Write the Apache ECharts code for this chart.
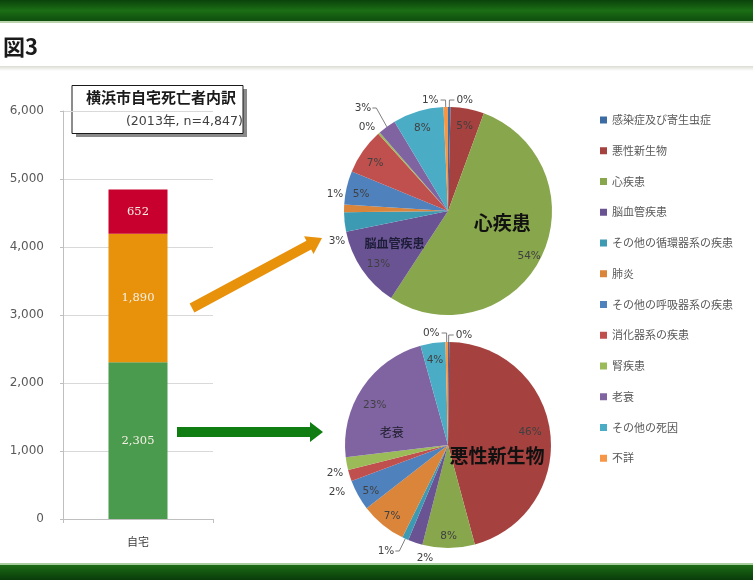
<!DOCTYPE html>
<html><head><meta charset="utf-8">
<script src="https://cdn.jsdelivr.net/npm/echarts@6/dist/echarts.min.js"></script>
<style>html,body{margin:0;padding:0;background:#fff}#c{width:753px;height:580px}</style>
</head><body><div id="c"></div>
<script>
// ---------- data ----------
const categories = ['自宅'];
const barGreen = [2305];   // -> 悪性新生物 breakdown pie
const barOrange = [1890];  // -> 心疾患 breakdown pie
const barRed = [652];
const yMin = 0, yMax = 6000, yInterval = 1000;

const causes = ['感染症及び寄生虫症','悪性新生物','心疾患','脳血管疾患','その他の循環器系の疾患','肺炎',
  'その他の呼吸器系の疾患','消化器系の疾患','腎疾患','老衰','その他の死因','不詳'];
const topPieValues    = [0.4, 5.2, 53.6, 12.6, 3.0, 1.2, 5.2, 7.1, 0.3, 2.8, 7.9, 0.7];
const bottomPieValues = [0.2, 45.6, 8.2, 2.3, 1.0, 7.2, 4.8, 1.8, 2.0, 22.6, 3.9, 0.4];

const boxTitle = '横浜市自宅死亡者内訳';
const boxSub = '(2013年, n=4,847)';
const figTitle = '図3';

// ---------- styles ----------
const palette = ['#3C6CA4','#A5413E','#88A64C','#6A5393','#3D9AB3','#DB853B',
  '#4F81BD','#C0504D','#9BBB59','#8064A2','#4BACC6','#F79646'];
const JP = '"Noto Sans CJK JP", sans-serif';
const NUM = '"DejaVu Sans", sans-serif';
const topCenter = [448, 211], topR = 104;
const botCenter = [448, 445], botR = 103;
const INSIDE_PUSH = 0.62, INSIDE_DY = 3;

const rich = {
  big:  {fontSize: 19, fontWeight: 'bold', color: '#111', fontFamily: JP, lineHeight: 28},
  pctA: {fontSize: 10.5, color: '#404040', fontFamily: NUM, lineHeight: 40, padding: [0,0,0,54]},
  mid:  {fontSize: 12, fontWeight: 'bold', color: '#1c1c36', fontFamily: JP, lineHeight: 16},
  pctB: {fontSize: 10.5, color: '#404040', fontFamily: NUM, lineHeight: 24, padding: [0,32,0,0]},
  pctC: {fontSize: 10.5, color: '#404040', fontFamily: NUM, lineHeight: 20, padding: [0,0,0,66]},
  pctD: {fontSize: 10.5, color: '#404040', fontFamily: NUM, lineHeight: 20, padding: [0,34,0,0]},
  nm2:  {fontSize: 12, color: '#1c1c2a', fontFamily: JP, lineHeight: 34}
};

// special combined labels: formatter + offset
const topSpecial = {
  2: {fmt: p => '{big|' + p.name + '}\n{pctA|' + p.percent + '%}', off: [5, 7]},
  3: {fmt: p => '{mid|' + p.name + '}\n{pctB|' + p.percent + '%}', off: [-8, 14]}
};
const botSpecial = {
  1: {fmt: p => '{pctC|' + p.percent + '%}\n{big|' + p.name + '}', off: [-5, 8]},
  9: {fmt: p => '{pctD|' + p.percent + '%}\n{nm2|' + p.name + '}', off: [-11, 8]}
};
// outside labels: [showLine, length, length2]
const topOutside = {0: [true, 7, 5], 11: [true, 7, 5], 9: [true, 18, 6], 8: [false, 2, 2], 5: [false, 2, 2], 4: [false, 2, 2]};
const botOutside = {0: [true, 7, 5], 11: [true, 9, 5], 3: [false, 2, 2], 4: [true, 10, 8], 7: [false, 2, 2], 8: [false, 2, 2]};
// outside labels placed where the reference has them (label centre); 'line' = draw leader to slice edge
const topOutPos = {4: [337, 241], 5: [335, 194], 8: [367, 127], 9: [363, 108, 'line']};
const botOutPos = {3: [425, 558], 4: [386, 551, 'line'], 7: [337, 492], 8: [335, 473]};

function edgePoint(values, i, center, r) {
  const total = values.reduce((a, b) => a + b, 0);
  let before = 0;
  for (let k = 0; k < i; k++) before += values[k];
  const t = (before + values[i] / 2) / total * Math.PI * 2;
  return [center[0] + r * Math.sin(t), center[1] - r * Math.cos(t)];
}

function pieData(values, special, outside) {
  return causes.map((n, i) => {
    const d = {name: n, value: values[i], itemStyle: {color: palette[i]}};
    if (outside[i]) {
      d.label = {position: 'outside'};
      d.labelLine = {show: outside[i][0], length: outside[i][1], length2: outside[i][2],
        lineStyle: {color: '#7f7f7f', width: 1}};
    }
    return d;
  });
}
function pieLayout(values, center, radius, special, outside, outPos) {
  return function (p) {
    const i = p.dataIndex;
    if (special[i]) return {dx: special[i].off[0], dy: special[i].off[1]};
    if (outPos[i]) {
      const o = {x: outPos[i][0], y: outPos[i][1], align: 'center', verticalAlign: 'middle'};
      if (outPos[i][2] === 'line') {
        const e = edgePoint(values, i, center, radius);
        const w = p.labelRect.width;
        const sx = outPos[i][0] + w / 2 + 1;
        o.labelLinePoints = [[sx, outPos[i][1]], [sx + 4, outPos[i][1]], e];
      }
      return o;
    }
    if (outside[i]) return {};
    const r = p.labelRect;
    const lx = r.x + r.width / 2, ly = r.y + r.height / 2;
    return {dx: INSIDE_PUSH * (lx - center[0]), dy: INSIDE_PUSH * (ly - center[1]) + INSIDE_DY};
  };
}
function pieSeries(values, center, radius, special, outside, outPos) {
  return {
    type: 'pie', center: center, radius: radius, startAngle: 90, clockwise: true,
    percentPrecision: 0, avoidLabelOverlap: true, animation: false, silent: true,
    data: pieData(values, special, outside),
    label: {
      show: true, position: 'inside', color: '#404040', fontFamily: NUM, fontSize: 10.5,
      distanceToLabelLine: 2, rich: rich,
      formatter: p => special[p.dataIndex] ? special[p.dataIndex].fmt(p) : p.percent + '%'
    },
    labelLine: {show: false, length: 2, length2: 2},
    labelLayout: pieLayout(values, center, radius, special, outside, outPos)
  };
}

function arrowPts(x1, y1, x2, y2, hw, headW, headL) {
  const dx = x2 - x1, dy = y2 - y1, L = Math.hypot(dx, dy), ux = dx / L, uy = dy / L, nx = -uy, ny = ux;
  const bx = x2 - ux * headL, by = y2 - uy * headL;
  return [[x1 + nx * hw, y1 + ny * hw], [bx + nx * hw, by + ny * hw], [bx + nx * headW, by + ny * headW],
    [x2, y2], [bx - nx * headW, by - ny * headW], [bx - nx * hw, by - ny * hw], [x1 - nx * hw, y1 - ny * hw]];
}

const barLabel = {show: true, position: 'inside', color: '#f6f1e6', fontFamily: '"DejaVu Serif", serif', fontSize: 11.5,
  formatter: p => p.value.toLocaleString('en-US')};

const chart = echarts.init(document.getElementById('c'), null, {renderer: 'canvas'});
chart.setOption({
  animation: false,
  backgroundColor: '#ffffff',
  grid: {left: 63, top: 111, width: 150, height: 408, containLabel: false},
  xAxis: {
    type: 'category', data: categories, boundaryGap: true,
    axisLine: {lineStyle: {color: '#bfbfbf'}},
    axisTick: {show: true, length: 4, lineStyle: {color: '#bfbfbf'}},
    axisLabel: {color: '#404040', fontFamily: JP, fontSize: 11, margin: 17}
  },
  yAxis: {
    type: 'value', min: yMin, max: yMax, interval: yInterval,
    axisLine: {show: true, lineStyle: {color: '#bfbfbf'}},
    axisTick: {show: true, length: 3, lineStyle: {color: '#bfbfbf'}},
    splitLine: {lineStyle: {color: '#d9d9d9'}},
    axisLabel: {color: '#595959', fontFamily: NUM, fontSize: 12, margin: 19,
      formatter: v => v.toLocaleString('en-US')}
  },
  legend: {
    orient: 'vertical', left: 595, top: 108, itemWidth: 7, itemHeight: 7, itemGap: 16.75,
    icon: 'rect', selectedMode: false, data: causes,
    textStyle: {fontSize: 11, color: '#595959', fontFamily: JP, lineHeight: 14}
  },
  series: [
    {type: 'bar', name: 'A', stack: 't', data: barGreen, barWidth: 59, itemStyle: {color: '#4B9B4F'}, label: barLabel, silent: true},
    {type: 'bar', name: 'B', stack: 't', data: barOrange, barWidth: 59, itemStyle: {color: '#E8910B'}, label: barLabel, silent: true},
    {type: 'bar', name: 'C', stack: 't', data: barRed, barWidth: 59, itemStyle: {color: '#C8002D'}, label: barLabel, silent: true},
    pieSeries(topPieValues, topCenter, topR, topSpecial, topOutside, topOutPos),
    pieSeries(bottomPieValues, botCenter, botR, botSpecial, botOutside, botOutPos)
  ],
  graphic: [
    {type: 'rect', shape: {x: 0, y: 0, width: 753, height: 21}, silent: true,
      style: {fill: new echarts.graphic.LinearGradient(0, 0, 0, 1, [
        {offset: 0, color: '#0b420b'}, {offset: 0.5, color: '#1b6e15'}, {offset: 1, color: '#0e4d0e'}])}},
    {type: 'rect', shape: {x: 0, y: 21, width: 753, height: 2}, silent: true, style: {fill: '#b9d3ad'}},
    {type: 'rect', shape: {x: 0, y: 66, width: 753, height: 5}, silent: true,
      style: {fill: new echarts.graphic.LinearGradient(0, 0, 0, 1, [
        {offset: 0, color: '#dcdcd4'}, {offset: 1, color: '#ffffff'}])}},
    {type: 'rect', shape: {x: 0, y: 563, width: 753, height: 2}, silent: true, style: {fill: '#a9cf9f'}},
    {type: 'rect', shape: {x: 0, y: 565, width: 753, height: 15}, silent: true,
      style: {fill: new echarts.graphic.LinearGradient(0, 0, 0, 1, [
        {offset: 0, color: '#1b6c15'}, {offset: 1, color: '#0a3b0a'}])}},
    {type: 'text', left: 3, top: 36, silent: true,
      style: {text: figTitle, font: 'bold 22px "Noto Sans CJK JP"', fill: '#1a1a1a'}},
    {type: 'rect', shape: {x: 76, y: 89, width: 171, height: 48}, silent: true, style: {fill: '#8a8a8a'}},
    {type: 'rect', shape: {x: 72, y: 85.5, width: 171, height: 48}, silent: true,
      style: {fill: '#ffffff', stroke: '#1a1a1a', lineWidth: 1}},
    {type: 'text', x: 236, y: 97, silent: true,
      style: {text: boxTitle, font: 'bold 15px "Noto Sans CJK JP"', fill: '#1a1a1a', align: 'right', verticalAlign: 'middle'}},
    {type: 'text', x: 243, y: 122, silent: true,
      style: {text: boxSub, font: '12.6px "DejaVu Sans", "Noto Sans CJK JP"', fill: '#404040', align: 'right', verticalAlign: 'middle'}},
    {type: 'polygon', silent: true, shape: {points: arrowPts(192, 308, 322, 238, 5, 10, 15)}, style: {fill: '#E8910B'}},
    {type: 'polygon', silent: true, shape: {points: arrowPts(177, 432, 323, 432, 5, 10, 13)}, style: {fill: '#0f7d12'}}
  ]
});
</script>
</body></html>
